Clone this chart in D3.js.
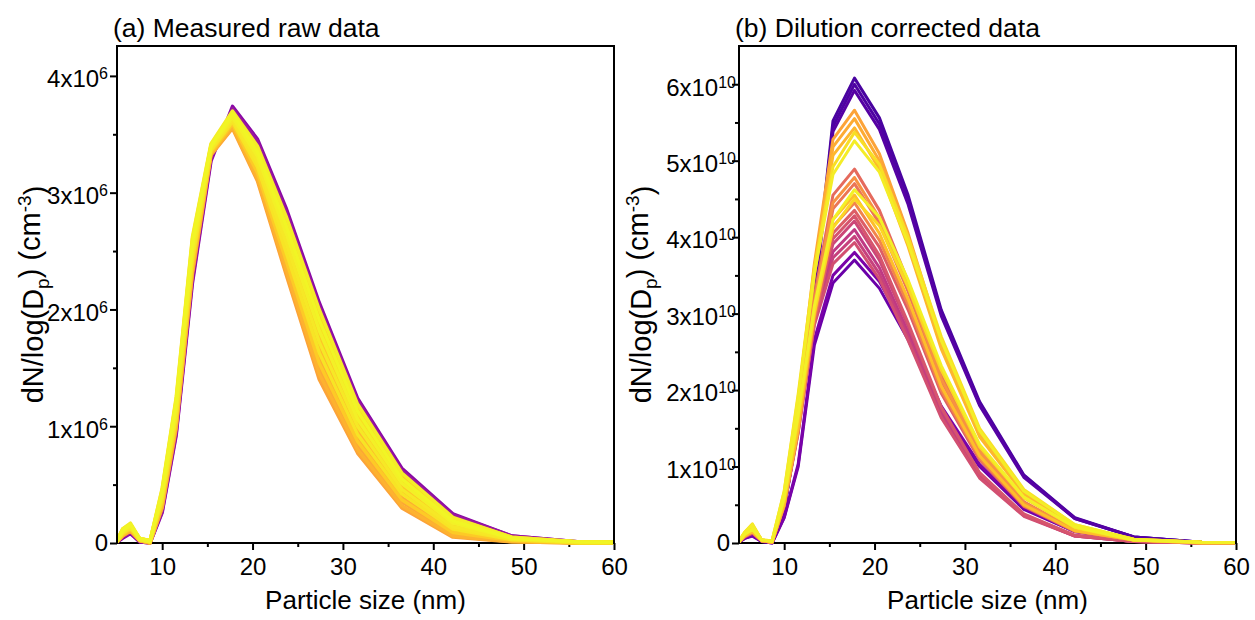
<!DOCTYPE html>
<html>
<head>
<meta charset="utf-8">
<script src="https://cdn.jsdelivr.net/npm/d3@7"></script>
<style>
  body { margin: 0; background: #fff; }
  text { font-family: "Liberation Sans", Arial, sans-serif; fill: #000; }
</style>
</head>
<body>
<div class="canvas"></div>
<script>
// particle size bins (nm)
const sizes = [4.87, 5.62, 6.49, 7.50, 8.66, 10.0, 11.55, 13.34, 15.40, 17.78, 20.54, 23.71, 27.38, 31.62, 36.52, 42.17, 48.70, 56.23, 64.94];

// (a) measured raw data, x10^6 cm^-3, with plasma colour position of each scan
const rawTones = [0.28, 0.33, 0.97, 0.90, 0.99, 0.93, 0.98, 0.88, 0.96, 0.84, 0.95, 0.81, 0.89, 0.80, 0.83, 0.79];
const rawData = [
  [0, .04, .08, .01, 0, .26, .92, 2.22, 3.27, 3.74, 3.46, 2.87, 2.06, 1.24, .64, .25, .06, .01, 0],
  [0, .05, .09, .01, 0, .27, .94, 2.25, 3.29, 3.72, 3.44, 2.84, 2.03, 1.22, .62, .24, .06, .01, 0],
  [0, .12, .17, .04, .02, .47, 1.25, 2.62, 3.42, 3.70, 3.40, 2.80, 2.00, 1.19, .60, .22, .05, .01, 0],
  [0, .12, .16, .04, .02, .46, 1.23, 2.60, 3.41, 3.69, 3.38, 2.76, 1.95, 1.16, .58, .21, .05, .01, 0],
  [0, .11, .16, .04, .02, .44, 1.21, 2.57, 3.40, 3.68, 3.35, 2.72, 1.91, 1.13, .55, .19, .04, .01, 0],
  [0, .11, .15, .04, .02, .43, 1.19, 2.55, 3.40, 3.67, 3.33, 2.68, 1.86, 1.09, .53, .18, .04, .01, 0],
  [0, .10, .15, .03, .01, .42, 1.17, 2.52, 3.39, 3.65, 3.31, 2.65, 1.82, 1.06, .51, .17, .04, .01, 0],
  [0, .10, .14, .03, .01, .40, 1.15, 2.50, 3.38, 3.64, 3.28, 2.61, 1.77, 1.03, .48, .15, .03, .01, 0],
  [0, .09, .14, .03, .01, .39, 1.13, 2.47, 3.37, 3.63, 3.26, 2.57, 1.72, 1.00, .46, .14, .03, .01, 0],
  [0, .09, .13, .03, .01, .38, 1.10, 2.45, 3.37, 3.62, 3.24, 2.53, 1.68, .96, .44, .13, .03, 0, 0],
  [0, .08, .13, .03, .01, .37, 1.08, 2.42, 3.36, 3.61, 3.22, 2.49, 1.63, .93, .42, .12, .03, 0, 0],
  [0, .08, .12, .03, .01, .35, 1.06, 2.40, 3.35, 3.60, 3.19, 2.45, 1.58, .90, .39, .10, .02, 0, 0],
  [0, .07, .12, .02, .01, .34, 1.04, 2.37, 3.34, 3.59, 3.17, 2.42, 1.54, .87, .37, .09, .02, 0, 0],
  [0, .07, .11, .02, 0, .33, 1.02, 2.35, 3.34, 3.57, 3.15, 2.38, 1.49, .84, .35, .08, .02, 0, 0],
  [0, .06, .11, .02, 0, .31, 1.00, 2.32, 3.33, 3.56, 3.12, 2.34, 1.45, .80, .32, .06, .01, 0, 0],
  [0, .06, .10, .02, 0, .30, .98, 2.30, 3.32, 3.55, 3.10, 2.30, 1.40, .77, .30, .05, .01, 0, 0]
];

// (b) dilution corrected data, x10^10 cm^-3
const correctedTones = [0.12, 0.13, 0.15, 0.79, 0.81, 0.84, 0.94, 0.97, 0.62, 0.74, 0.98, 0.86, 0.70, 0.58, 0.50, 0.45, 0.48, 0.53, 0.24, 0.20, 0.66, 0.55, 0.92];
const correctedData = [
  [0, .10, .15, .03, .01, .45, 1.55, 3.25, 5.52, 6.08, 5.56, 4.55, 3.05, 1.85, .89, .33, .08, .01, 0],
  [0, .10, .15, .03, .01, .44, 1.53, 3.21, 5.45, 6.00, 5.48, 4.49, 3.01, 1.82, .88, .32, .08, .01, 0],
  [0, .10, .15, .03, .01, .44, 1.51, 3.17, 5.38, 5.92, 5.41, 4.43, 2.97, 1.80, .86, .32, .08, .01, 0],
  [0, .13, .23, .04, .02, .62, 1.85, 3.65, 5.28, 5.66, 5.09, 4.05, 2.65, 1.45, .66, .22, .05, .01, 0],
  [0, .13, .22, .04, .02, .61, 1.81, 3.58, 5.18, 5.55, 5.00, 3.97, 2.60, 1.42, .65, .22, .04, .01, 0],
  [0, .12, .22, .04, .02, .60, 1.78, 3.50, 5.07, 5.43, 4.89, 3.88, 2.54, 1.39, .64, .21, .04, .01, 0],
  [0, .14, .25, .04, .03, .68, 1.95, 3.60, 4.92, 5.37, 4.95, 4.00, 2.70, 1.50, .70, .24, .05, .01, 0],
  [0, .14, .24, .04, .03, .67, 1.91, 3.52, 4.82, 5.26, 4.85, 3.92, 2.65, 1.47, .68, .24, .05, .01, 0],
  [0, .10, .16, .03, .01, .54, 1.61, 3.23, 4.55, 4.89, 4.35, 3.42, 2.20, 1.22, .54, .17, .04, 0, 0],
  [0, .10, .15, .03, .01, .53, 1.58, 3.15, 4.45, 4.78, 4.25, 3.35, 2.15, 1.20, .53, .17, .04, 0, 0],
  [0, .11, .18, .04, .02, .59, 1.68, 3.10, 4.23, 4.62, 4.26, 3.44, 2.32, 1.29, .60, .21, .04, .01, 0],
  [0, .09, .15, .03, .01, .50, 1.50, 3.00, 4.23, 4.55, 4.05, 3.19, 2.05, 1.14, .50, .16, .04, 0, 0],
  [0, .09, .14, .03, .01, .49, 1.47, 2.94, 4.14, 4.45, 3.96, 3.12, 2.00, 1.11, .49, .16, .04, 0, 0],
  [0, .09, .14, .03, .01, .48, 1.44, 2.87, 4.05, 4.35, 3.87, 3.05, 1.96, 1.09, .48, .15, .03, 0, 0],
  [0, .08, .14, .03, .01, .53, 1.55, 3.05, 3.91, 4.21, 3.70, 2.84, 1.76, .91, .37, .10, .02, 0, 0],
  [0, .08, .14, .03, .01, .52, 1.51, 2.97, 3.81, 4.10, 3.60, 2.76, 1.71, .89, .36, .09, .02, 0, 0],
  [0, .08, .13, .03, .01, .51, 1.48, 2.91, 3.73, 4.01, 3.52, 2.70, 1.67, .87, .36, .09, .02, 0, 0],
  [0, .08, .13, .03, .01, .50, 1.45, 2.85, 3.65, 3.93, 3.45, 2.65, 1.64, .85, .35, .09, .02, 0, 0],
  [0, .06, .10, .02, .00, .34, 1.03, 2.66, 3.50, 3.80, 3.42, 2.74, 1.79, 1.03, .46, .15, .04, .01, 0],
  [0, .06, .09, .02, .00, .33, 1.00, 2.59, 3.40, 3.70, 3.33, 2.66, 1.74, 1.00, .44, .15, .04, .01, 0],
  [0, .09, .15, .03, .01, .52, 1.55, 3.10, 4.37, 4.70, 4.18, 3.29, 2.12, 1.18, .52, .16, .04, 0, 0],
  [0, .09, .14, .03, .01, .54, 1.58, 3.10, 3.98, 4.28, 3.76, 2.88, 1.78, .92, .38, .10, .02, 0, 0],
  [0, .11, .18, .04, .02, .57, 1.63, 3.02, 4.12, 4.50, 4.15, 3.35, 2.26, 1.26, .59, .20, .04, .01, 0]
];

// axis ticks
const xTicks = [10, 20, 30, 40, 50, 60];
const xMinor = [15, 25, 35, 45, 55];
const rawTicks = [0, 1, 2, 3, 4];
const rawMinor = [0.5, 1.5, 2.5, 3.5];
const correctedTicks = [0, 1, 2, 3, 4, 5, 6];
const correctedMinor = [0.5, 1.5, 2.5, 3.5, 4.5, 5.5];

const plotTop = 46;
const plotWidth = 497;
const plotHeight = 497;

const svg = d3.select('.canvas')
  .append('svg')
  .attr('width', 1255)
  .attr('height', 620);

const panels = [
  {left: 117, title: '(a) Measured raw data', data: rawData, tones: rawTones, yMax: 4.256,
   ticks: rawTicks, minor: rawMinor, exp: '6', labelX: -9, titleX: -74, lineWidth: 3.4},
  {left: 739, title: '(b) Dilution corrected data', data: correctedData, tones: correctedTones, yMax: 6.5,
   ticks: correctedTicks, minor: correctedMinor, exp: '10', labelX: -3, titleX: -88, lineWidth: 3}
];

panels.forEach((p, k) => {
  const graph = svg.append('g')
    .attr('transform', `translate(${p.left}, ${plotTop})`);

  const x = d3.scaleLinear().domain([5, 60]).range([0, plotWidth]);
  const y = d3.scaleLinear().domain([0, p.yMax]).range([plotHeight, 0]);

  // minor ticks first, then majors with labels
  const xMinorGroup = graph.append('g')
    .attr('transform', `translate(0, ${plotHeight})`)
    .call(d3.axisBottom(x).tickValues(xMinor).tickSize(4).tickFormat(''));
  const xAxisGroup = graph.append('g')
    .attr('transform', `translate(0, ${plotHeight})`)
    .call(d3.axisBottom(x).tickValues(xTicks).tickSize(7).tickPadding(8).tickFormat(d3.format('d')));
  const yMinorGroup = graph.append('g')
    .call(d3.axisLeft(y).tickValues(p.minor).tickSize(4).tickFormat(''));
  const yAxisGroup = graph.append('g')
    .call(d3.axisLeft(y).tickValues(p.ticks).tickSize(7).tickPadding(2).tickFormat(''));

  [xMinorGroup, xAxisGroup, yMinorGroup, yAxisGroup].forEach(a => {
    a.select('.domain').remove();
    a.selectAll('line').attr('stroke', '#000').attr('stroke-width', 2);
  });

  xAxisGroup.selectAll('text')
    .attr('font-size', 24)
    .attr('font-family', '"Liberation Sans", Arial, sans-serif')
    .attr('fill', '#000');

  // y labels like 4x10^6
  yAxisGroup.selectAll('.tick').each(function(d) {
    const t = d3.select(this).select('text')
      .attr('x', d === 0 ? -9 : p.labelX)
      .attr('text-anchor', 'end')
      .attr('font-size', 24)
      .attr('font-family', '"Liberation Sans", Arial, sans-serif')
      .attr('fill', '#000')
      .attr('dy', d === 0 ? '0.3em' : '0.45em')
      .text(null);
    if (d === 0) {
      t.text('0');
    } else {
      t.append('tspan').text(d + 'x10');
      t.append('tspan').attr('dy', '-0.5em').attr('font-size', 16).text(p.exp);
    }
  });

  // frame
  graph.append('rect')
    .attr('width', plotWidth)
    .attr('height', plotHeight)
    .attr('fill', 'none')
    .attr('stroke', '#000')
    .attr('stroke-width', 2);

  // lines, clipped to the plot area
  graph.append('clipPath')
    .attr('id', 'clip' + k)
    .append('rect')
      .attr('x', 1)
      .attr('y', 1)
      .attr('width', plotWidth - 2)
      .attr('height', plotHeight + 1);

  const line = d3.line()
    .x((d, i) => x(sizes[i]))
    .y(d => y(d));

  // draw purple scans first, yellow ones on top
  const series = p.data
    .map((values, i) => ({tone: p.tones[i], values}))
    .sort((a, b) => a.tone - b.tone);

  graph.append('g')
    .attr('clip-path', `url(#clip${k})`)
    .selectAll('path')
    .data(series)
    .join('path')
      .attr('d', d => line(d.values))
      .attr('fill', 'none')
      .attr('stroke', d => d3.interpolatePlasma(d.tone))
      .attr('stroke-width', p.lineWidth)
      .attr('stroke-linejoin', 'round');

  // panel title
  graph.append('text')
    .attr('x', -4)
    .attr('y', -9)
    .attr('font-size', 26.5)
    .text(p.title);

  // x title
  graph.append('text')
    .attr('x', plotWidth / 2)
    .attr('y', plotHeight + 66)
    .attr('text-anchor', 'middle')
    .attr('font-size', 26)
    .text('Particle size (nm)');

  // y title
  const yTitle = graph.append('text')
    .attr('transform', `translate(${p.titleX}, ${plotHeight / 2}) rotate(-90)`)
    .attr('text-anchor', 'middle')
    .attr('font-size', 29);
  yTitle.append('tspan').text('dN/log(D');
  yTitle.append('tspan').attr('dy', '0.3em').attr('font-size', 19).text('p');
  yTitle.append('tspan').attr('dy', '-0.3em').text(') (cm');
  yTitle.append('tspan').attr('dy', '-0.5em').attr('font-size', 19).text('-3');
  yTitle.append('tspan').attr('dy', '0.5em').text(')');
});
</script>
</body>
</html>
